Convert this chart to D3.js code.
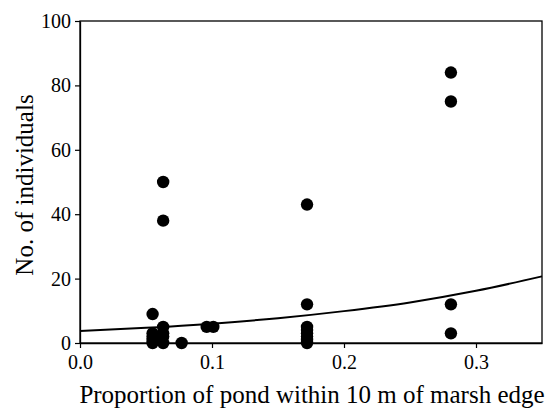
<!DOCTYPE html>
<html>
<head>
<meta charset="utf-8">
<script src="https://cdn.jsdelivr.net/npm/d3@7"></script>
<style>
  html, body { margin: 0; padding: 0; background: #fff; }
  svg { display: block; }
</style>
</head>
<body>
<svg id="chart"></svg>
<script>
(function () {

// observations: proportion of pond near marsh edge vs count
const pondX = [0.055, 0.055, 0.055, 0.055, 0.055,
               0.063, 0.063, 0.063, 0.063, 0.063, 0.063,
               0.077, 0.096, 0.101,
               0.172, 0.172, 0.172, 0.172, 0.172, 0.172, 0.172, 0.172,
               0.281, 0.281, 0.281, 0.281];
const counts = [9, 3, 2, 1, 0,
                50, 38, 5, 3, 2, 0,
                0, 5, 5,
                43, 12, 5, 4, 3, 2, 1, 0,
                84, 75, 12, 3];

// fitted curve
const fitX = [0, 0.05, 0.1, 0.15, 0.2, 0.25, 0.3, 0.35];
const fitY = [3.7, 4.7, 6.0, 7.7, 9.9, 12.6, 16.2, 20.7];

const xTicks = [0, 0.1, 0.2, 0.3];
const yTicks = [0, 20, 40, 60, 80, 100];

const W = 554, H = 409;
const m = { top: 21, right: 12, bottom: 66, left: 80 };
const FONT = "'Liberation Serif'";

const svg = d3.select('#chart').attr('width', W).attr('height', H);

const x = d3.scaleLinear().domain([0, 0.35]).range([m.left, W - m.right]);
const y = d3.scaleLinear().domain([0, 100]).range([H - m.bottom, m.top]);

// frame
svg.append('rect')
  .attr('x', m.left).attr('y', m.top)
  .attr('width', W - m.left - m.right).attr('height', H - m.top - m.bottom)
  .attr('fill', 'none').attr('stroke', '#000').attr('stroke-width', 1.3);

const xAxis = svg.append('g')
  .attr('transform', `translate(0,${H - m.bottom})`)
  .call(d3.axisBottom(x).tickValues(xTicks).tickFormat(d3.format('.1f')).tickSize(5).tickSizeOuter(0));

const yAxis = svg.append('g')
  .attr('transform', `translate(${m.left},0)`)
  .call(d3.axisLeft(y).tickValues(yTicks).tickFormat(d3.format('d')).tickSize(5).tickSizeOuter(0));

[xAxis, yAxis].forEach(g => {
  g.select('.domain').attr('stroke', '#000').attr('stroke-width', 1.3);
  g.selectAll('.tick line').attr('stroke', '#000').attr('stroke-width', 1.2);
  g.selectAll('.tick text')
    .style('font-family', FONT).style('font-size', '20px').attr('fill', '#000');
});
xAxis.selectAll('.tick text').attr('dy', '0.9em');
yAxis.selectAll('.tick text').attr('x', -9);

// fitted line
const line = d3.line()
  .x(d => x(d[0]))
  .y(d => y(d[1]))
  .curve(d3.curveMonotoneX);

svg.append('path')
  .datum(fitX.map((v, i) => [v, fitY[i]]))
  .attr('d', line)
  .attr('fill', 'none')
  .attr('stroke', '#000')
  .attr('stroke-width', 2);

// points
svg.append('g')
  .selectAll('circle')
  .data(pondX.map((v, i) => [v, counts[i]]))
  .join('circle')
  .attr('cx', d => x(d[0]))
  .attr('cy', d => y(d[1]))
  .attr('r', 6.2)
  .attr('fill', '#000');

// axis titles
svg.append('text')
  .attr('x', 312)
  .attr('y', 403)
  .attr('text-anchor', 'middle')
  .style('font-family', FONT).style('font-size', '25px')
  .text('Proportion of pond within 10 m of marsh edge');

svg.append('text')
  .attr('transform', `translate(33,${(m.top + H - m.bottom) / 2 + 3}) rotate(-90)`)
  .attr('text-anchor', 'middle')
  .style('font-family', FONT).style('font-size', '25px')
  .text('No. of individuals');

})();
</script>
</body>
</html>
